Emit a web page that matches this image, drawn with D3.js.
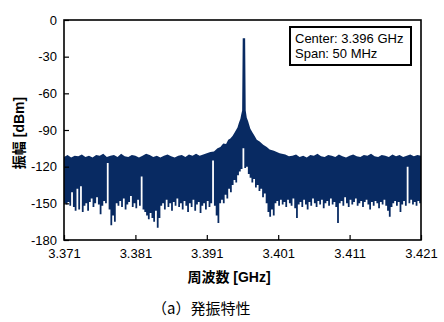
<!DOCTYPE html>
<html><head><meta charset="utf-8">
<script src="https://cdn.jsdelivr.net/npm/d3@7"></script>
<style>body{margin:0;background:#fff}</style>
</head><body><svg id="c" width="444" height="322"></svg>
<script>
const xTicks = [3.371, 3.381, 3.391, 3.401, 3.411, 3.421];
const yTicks = [0, -30, -60, -90, -120, -150, -180];

// upper envelope of the spectrum trace (GHz, dBm)
const upperFreq = [
3.3710,3.3715,3.3720,3.3725,3.3730,3.3735,3.3740,3.3745,3.3750,3.3755,
3.3760,3.3765,3.3770,3.3775,3.3780,3.3785,3.3790,3.3795,3.3800,3.3805,
3.3810,3.3815,3.3820,3.3825,3.3830,3.3835,3.3840,3.3845,3.3850,3.3855,
3.3860,3.3865,3.3870,3.3875,3.3880,3.3885,3.3890,3.3895,3.3900,3.3905,
3.3910,3.3915,3.3920,3.3925,3.3929,3.3933,3.3937,3.3940,3.3943,3.3946,
3.3949,3.3951,3.3953,3.3955,3.3957,3.3958,3.39595,3.39603,3.39637,3.39645,
3.3966,3.3968,3.3969,3.3971,3.3974,3.3977,3.3980,3.3984,3.3989,3.3994,
3.3998,3.4004,3.4012,3.4020,3.4025,3.4030,3.4035,3.4040,3.4045,3.4050,
3.4055,3.4060,3.4065,3.4070,3.4075,3.4080,3.4085,3.4090,3.4095,3.4100,
3.4105,3.4110,3.4115,3.4120,3.4125,3.4130,3.4135,3.4140,3.4145,3.4150,
3.4155,3.4160,3.4165,3.4170,3.4175,3.4180,3.4185,3.4190,3.4195,3.4200,
3.4205,3.4210];
const upperVal = [
-112,-110.5,-112.5,-111,-111.5,-110,-112,-111,-112.5,-110.5,
-111,-109.5,-112,-111,-110.5,-112,-109.5,-111.5,-112,-110.5,
-111,-112.5,-111,-109.5,-110.5,-112,-111,-112.5,-111,-110,
-111.5,-112.5,-111,-110.5,-112,-110,-111,-109.5,-111,-110,
-109,-108,-107.5,-105,-104,-101,-101.5,-98,-97,-95,
-92,-90,-88,-84,-81,-78,-74,-15,-15,-74,
-80,-83,-85,-89,-92,-95,-98,-99.5,-102,-104,
-106,-107,-109,-110,-111.5,-111,-110,-112,-111,-112.5,
-110.5,-111,-109.5,-111.5,-112,-110.5,-111,-112,-110,-111.5,
-112.5,-111,-110,-111.5,-112,-110.5,-111,-109.5,-111.5,-112,
-110.5,-111,-112,-110,-111.5,-110.5,-112,-111,-110,-111.5,
-110.5,-111];

// lower envelope of the trace, sampled every 0.25 MHz from 3.371 GHz
const lowerStart = 3.371, lowerStep = 0.00025;
const lowerVal = [
-150,-151,-149,-152,-141,-153,-156,-138,-155,-136,
-157,-152,-150,-156,-149,-146,-153,-150,-145,-151,
-159,-152,-148,-150,-117,-155,-168,-160,-165,-150,
-152,-148,-153,-146,-155,-151,-149,-144,-153,-150,
-154,-147,-152,-128,-155,-157,-160,-163,-158,-162,
-165,-156,-170,-162,-152,-150,-155,-147,-153,-150,
-156,-149,-152,-146,-153,-150,-155,-148,-152,-157,
-150,-153,-147,-156,-151,-149,-158,-152,-150,-155,
-148,-153,-150,-115,-152,-160,-166,-150,-147,-150,
-143,-146,-138,-141,-135,-131,-133,-127,-124,-122,
-105,-121,-120,-126,-129,-133,-130,-137,-135,-140,
-138,-145,-142,-150,-157,-161,-155,-160,-150,-148,
-152,-147,-151,-149,-153,-147,-150,-152,-146,-154,
-162,-151,-149,-153,-147,-151,-155,-149,-152,-146,
-150,-153,-148,-151,-147,-154,-150,-148,-152,-146,
-151,-149,-153,-166,-150,-148,-152,-145,-150,-153,
-147,-151,-149,-146,-152,-150,-148,-153,-149,-147,
-151,-155,-149,-152,-148,-150,-154,-149,-151,-147,
-152,-156,-161,-153,-150,-148,-152,-149,-157,-151,
-148,-152,-120,-150,-147,-151,-149,-152,-148,-150,
-149];

const legendLines = ["Center: 3.396 GHz", "Span: 50 MHz"];
const xTitle = "周波数 [GHz]";
const yTitle = "振幅 [dBm]";
const caption = "（a）発振特性";

const L = 64, T = 20, R = 421, B = 240;
const navy = "#082a62";
const svg = d3.select("#c");
svg.append("rect").attr("width", 444).attr("height", 322).attr("fill", "#fff");

const x = d3.scaleLinear().domain([3.371, 3.421]).range([L, R]);
const y = d3.scaleLinear().domain([-180, 0]).range([B, T]);

svg.append("clipPath").attr("id", "pc").append("rect")
  .attr("x", L).attr("y", T).attr("width", R - L).attr("height", B - T);
const g = svg.append("g").attr("clip-path", "url(#pc)");

const upper = upperFreq.map((f, i) => ({f, v: upperVal[i]}));
const lower = lowerVal.map((v, i) => ({f: lowerStart + i * lowerStep, v}));

g.append("path").datum(upper)
  .attr("fill", navy)
  .attr("d", d3.area().x(d => x(d.f)).y1(d => y(d.v)).y0(y(-180)));

g.append("path").datum(lower)
  .attr("fill", "#fff")
  .attr("d", d3.area().curve(d3.curveStepAfter).x(d => x(d.f)).y1(d => y(d.v)).y0(y(-185)));

const tickFont = "'Liberation Sans', Arial, sans-serif";

const xa = svg.append("g").attr("transform", `translate(0,${B})`)
  .call(d3.axisBottom(x).tickValues(xTicks).tickSize(-5).tickPadding(9).tickFormat(d3.format(".3f")));
const ya = svg.append("g").attr("transform", `translate(${L},0)`)
  .call(d3.axisLeft(y).tickValues(yTicks).tickSize(-5).tickPadding(7).tickFormat(d => String(d)));
[xa, ya].forEach(a => {
  a.select(".domain").remove();
  a.selectAll("line").attr("stroke", "#000").attr("stroke-width", 1.2);
  a.selectAll("text").attr("font-family", tickFont).attr("font-size", 13).attr("fill", "#000");
});

svg.append("rect").attr("x", L).attr("y", T).attr("width", R - L).attr("height", B - T)
  .attr("fill", "none").attr("stroke", "#000").attr("stroke-width", 1.6);

// legend box
svg.append("rect").attr("x", 290).attr("y", 27).attr("width", 121).attr("height", 38)
  .attr("fill", "#fff").attr("stroke", "#000").attr("stroke-width", 2);
svg.selectAll(".leg").data(legendLines).join("text")
  .attr("x", 295).attr("y", (d, i) => 43 + i * 15)
  .attr("font-family", tickFont).attr("font-size", 13).attr("fill", "#000").text(d => d);

const cjk = "'Liberation Sans', 'Noto Sans CJK JP', sans-serif";
svg.append("text").attr("x", 229).attr("y", 282).attr("text-anchor", "middle")
  .attr("font-family", cjk).attr("font-size", 14).attr("font-weight", "bold").text(xTitle);
svg.append("text").attr("transform", "translate(24,133) rotate(-90)").attr("text-anchor", "middle")
  .attr("font-family", cjk).attr("font-size", 14).attr("font-weight", "bold").text(yTitle);
svg.append("text").attr("x", 152).attr("y", 314)
  .attr("font-family", "'Noto Sans CJK JP', sans-serif").attr("font-size", 15).text(caption);
</script></body></html>
